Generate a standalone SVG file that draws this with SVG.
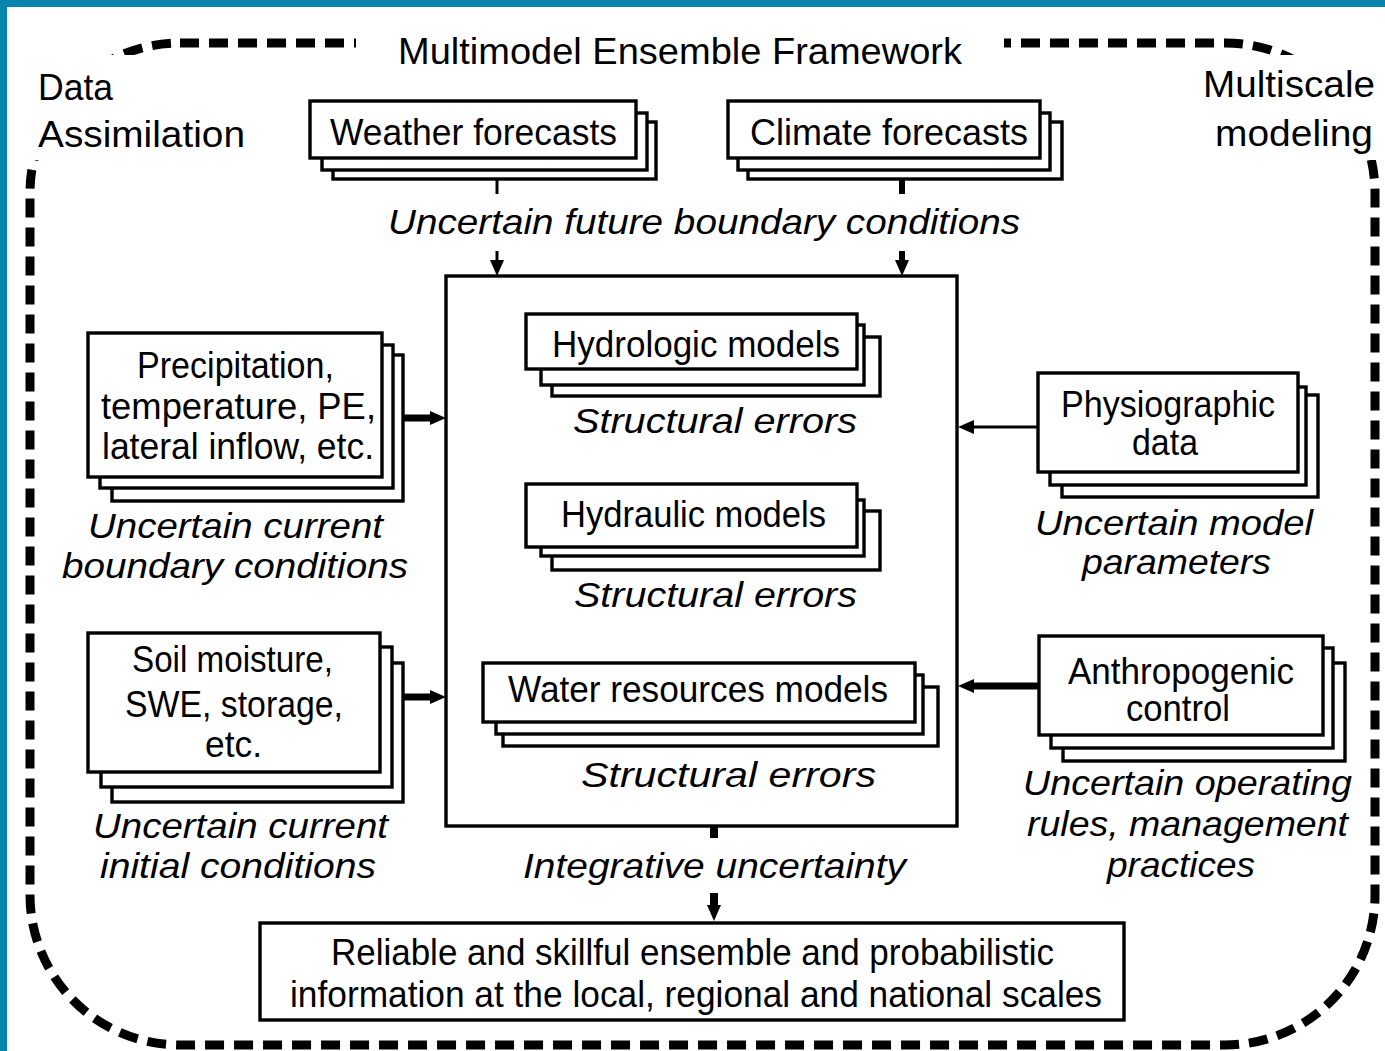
<svg xmlns="http://www.w3.org/2000/svg" width="1385" height="1051" viewBox="0 0 1385 1051">
  <defs>
    <style>
      .bg { fill: #ffffff; }
      .band { fill: #0884ad; }
      .frame { fill: none; stroke: #000; stroke-width: 9; stroke-dasharray: 19 10; }
      .mask { fill: #ffffff; }
      .box { fill: #ffffff; stroke: #000; stroke-width: 3.4; }
      .core { fill: #ffffff; stroke: #000; stroke-width: 3.4; }
      .t { font-family: "Liberation Sans", Arial, sans-serif; font-size: 36px; fill: #000; }
      .it { font-family: "Liberation Sans", Arial, sans-serif; font-size: 35px; font-style: italic; fill: #000; }
      .thin { stroke: #000; stroke-width: 3; fill: none; }
      .thick { stroke: #000; stroke-width: 7; fill: none; }
    </style>
    <marker id="head" markerUnits="userSpaceOnUse" viewBox="0 0 16 14" markerWidth="16" markerHeight="14" refX="3" refY="7" orient="auto">
      <path d="M0,0 L16,7 L0,14 z" fill="#000"/>
    </marker>
  </defs>

  <!-- page -->
  <rect class="bg" x="0" y="0" width="1385" height="1051"/>
  <rect class="band" x="0" y="0" width="1385" height="7"/>
  <rect class="band" x="0" y="0" width="7" height="1051"/>

  <!-- dashed framework outline -->
  <g id="framework">
    <rect class="frame" x="30" y="43" width="1345" height="1002" rx="150" ry="150"/>
    <rect class="mask" x="356" y="22" width="648" height="44"/>
    <rect class="mask" x="10" y="55" width="245" height="105"/>
    <rect class="mask" x="1195" y="55" width="190" height="105"/>
    <text class="t" x="398" y="64" textLength="564" lengthAdjust="spacingAndGlyphs">Multimodel Ensemble Framework</text>
  </g>

  <g id="label-data-assimilation">
    <text class="t" x="38" y="100" textLength="75" lengthAdjust="spacingAndGlyphs">Data</text>
    <text class="t" x="38" y="147" textLength="207" lengthAdjust="spacingAndGlyphs">Assimilation</text>
  </g>

  <g id="label-multiscale">
    <text class="t" x="1203" y="97" textLength="172" lengthAdjust="spacingAndGlyphs">Multiscale</text>
    <text class="t" x="1215" y="146" textLength="158" lengthAdjust="spacingAndGlyphs">modeling</text>
  </g>

  <!-- connectors -->
  <g id="connectors">
    <line class="thin" x1="497" y1="179" x2="497" y2="194"/>
    <line class="thin" x1="497" y1="251" x2="497" y2="263" marker-end="url(#head)"/>
    <line class="thick" style="stroke-width:6" x1="902" y1="179" x2="902" y2="194"/>
    <line class="thick" style="stroke-width:6" x1="902" y1="251" x2="902" y2="263" marker-end="url(#head)"/>
    <line class="thick" x1="403" y1="418" x2="433" y2="418" marker-end="url(#head)"/>
    <line class="thick" x1="403" y1="697" x2="433" y2="697" marker-end="url(#head)"/>
    <line class="thin" x1="1038" y1="427" x2="971" y2="427" marker-end="url(#head)"/>
    <line class="thick" x1="1039" y1="686" x2="971" y2="686" marker-end="url(#head)"/>
    <line class="thick" style="stroke-width:8" x1="714" y1="826" x2="714" y2="838"/>
    <line class="thick" style="stroke-width:8" x1="714" y1="893" x2="714" y2="908" marker-end="url(#head)"/>
  </g>

  <!-- future boundary forcing -->
  <g id="weather-forecasts">
    <rect class="box" x="333" y="122" width="323" height="57"/>
    <rect class="box" x="322" y="113" width="325" height="57"/>
    <rect class="box" x="310" y="101" width="326" height="57"/>
    <text class="t" x="330" y="145" textLength="287" lengthAdjust="spacingAndGlyphs">Weather forecasts</text>
  </g>

  <g id="climate-forecasts">
    <rect class="box" x="748" y="122" width="314" height="57"/>
    <rect class="box" x="738" y="113" width="312" height="57"/>
    <rect class="box" x="728" y="101" width="312" height="57"/>
    <text class="t" x="750" y="145" textLength="278" lengthAdjust="spacingAndGlyphs">Climate forecasts</text>
  </g>

  <g id="label-future-boundary">
    <text class="it" x="388" y="234" textLength="632" lengthAdjust="spacingAndGlyphs">Uncertain future boundary conditions</text>
  </g>

  <!-- model chain -->
  <g id="model-ensemble">
    <rect class="core" x="446" y="276" width="511" height="550"/>
  </g>

  <g id="hydrologic-models">
    <rect class="box" x="552" y="337" width="328" height="59"/>
    <rect class="box" x="541" y="325" width="323" height="60"/>
    <rect class="box" x="526" y="314" width="331" height="55"/>
    <text class="t" x="552" y="357" textLength="288" lengthAdjust="spacingAndGlyphs">Hydrologic models</text>
    <text class="it" x="573" y="433" textLength="284" lengthAdjust="spacingAndGlyphs">Structural errors</text>
  </g>

  <g id="hydraulic-models">
    <rect class="box" x="552" y="511" width="328" height="59"/>
    <rect class="box" x="541" y="500" width="323" height="56"/>
    <rect class="box" x="526" y="484" width="331" height="63"/>
    <text class="t" x="561" y="527" textLength="265" lengthAdjust="spacingAndGlyphs">Hydraulic models</text>
    <text class="it" x="574" y="607" textLength="283" lengthAdjust="spacingAndGlyphs">Structural errors</text>
  </g>

  <g id="water-resources-models">
    <rect class="box" x="503" y="687" width="435" height="59"/>
    <rect class="box" x="496" y="675" width="427" height="59"/>
    <rect class="box" x="483" y="663" width="432" height="59"/>
    <text class="t" x="508" y="702" textLength="380" lengthAdjust="spacingAndGlyphs">Water resources models</text>
    <text class="it" x="581" y="787" textLength="295" lengthAdjust="spacingAndGlyphs">Structural errors</text>
  </g>

  <g id="label-integrative">
    <text class="it" x="523" y="878" textLength="383" lengthAdjust="spacingAndGlyphs">Integrative uncertainty</text>
  </g>

  <!-- current boundary forcing -->
  <g id="forcing-data">
    <rect class="box" x="112" y="355" width="291" height="146"/>
    <rect class="box" x="100" y="345" width="293" height="143"/>
    <rect class="box" x="88" y="333" width="294" height="144"/>
    <text class="t" x="137" y="378" textLength="197" lengthAdjust="spacingAndGlyphs">Precipitation,</text>
    <text class="t" x="101" y="419" textLength="275" lengthAdjust="spacingAndGlyphs">temperature, PE,</text>
    <text class="t" x="102" y="459" textLength="272" lengthAdjust="spacingAndGlyphs">lateral inflow, etc.</text>
    <text class="it" x="88" y="538" textLength="295" lengthAdjust="spacingAndGlyphs">Uncertain current</text>
    <text class="it" x="62" y="578" textLength="346" lengthAdjust="spacingAndGlyphs">boundary conditions</text>
  </g>

  <!-- initial states -->
  <g id="initial-states">
    <rect class="box" x="112" y="663" width="291" height="139"/>
    <rect class="box" x="101" y="647" width="291" height="140"/>
    <rect class="box" x="88" y="633" width="292" height="139"/>
    <text class="t" x="132" y="672" textLength="201" lengthAdjust="spacingAndGlyphs">Soil moisture,</text>
    <text class="t" x="125" y="717" textLength="218" lengthAdjust="spacingAndGlyphs">SWE, storage,</text>
    <text class="t" x="205" y="757" textLength="57" lengthAdjust="spacingAndGlyphs">etc.</text>
    <text class="it" x="93" y="838" textLength="295" lengthAdjust="spacingAndGlyphs">Uncertain current</text>
    <text class="it" x="100" y="878" textLength="276" lengthAdjust="spacingAndGlyphs">initial conditions</text>
  </g>

  <!-- parameters -->
  <g id="physiographic-data">
    <rect class="box" x="1062" y="395" width="256" height="102"/>
    <rect class="box" x="1050" y="387" width="256" height="98"/>
    <rect class="box" x="1038" y="373" width="260" height="99"/>
    <text class="t" x="1061" y="417" textLength="214" lengthAdjust="spacingAndGlyphs">Physiographic</text>
    <text class="t" x="1132" y="455" textLength="66" lengthAdjust="spacingAndGlyphs">data</text>
    <text class="it" x="1035" y="535" textLength="278" lengthAdjust="spacingAndGlyphs">Uncertain model</text>
    <text class="it" x="1082" y="574" textLength="189" lengthAdjust="spacingAndGlyphs">parameters</text>
  </g>

  <!-- human influence -->
  <g id="anthropogenic-control">
    <rect class="box" x="1063" y="663" width="282" height="98"/>
    <rect class="box" x="1051" y="648" width="282" height="100"/>
    <rect class="box" x="1039" y="636" width="284" height="99"/>
    <text class="t" x="1068" y="684" textLength="226" lengthAdjust="spacingAndGlyphs">Anthropogenic</text>
    <text class="t" x="1126" y="721" textLength="104" lengthAdjust="spacingAndGlyphs">control</text>
    <text class="it" x="1023" y="795" textLength="329" lengthAdjust="spacingAndGlyphs">Uncertain operating</text>
    <text class="it" x="1027" y="836" textLength="321" lengthAdjust="spacingAndGlyphs">rules, management</text>
    <text class="it" x="1107" y="877" textLength="148" lengthAdjust="spacingAndGlyphs">practices</text>
  </g>

  <!-- product -->
  <g id="ensemble-information">
    <rect class="box" x="260" y="923" width="864" height="97"/>
    <text class="t" x="331" y="965" textLength="723" lengthAdjust="spacingAndGlyphs">Reliable and skillful ensemble and probabilistic</text>
    <text class="t" x="290" y="1007" textLength="812" lengthAdjust="spacingAndGlyphs">information at the local, regional and national scales</text>
  </g>
</svg>
